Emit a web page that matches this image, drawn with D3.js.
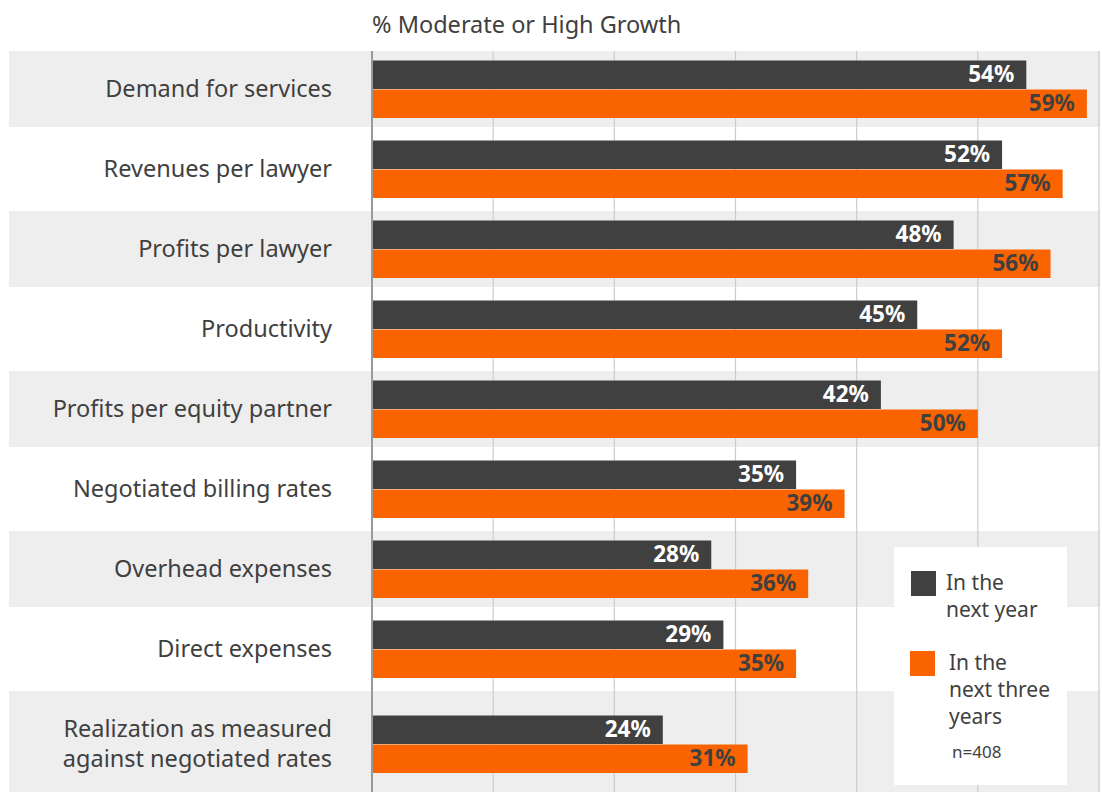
<!DOCTYPE html>
<html>
<head>
<meta charset="utf-8">
<script src="https://cdn.jsdelivr.net/npm/d3@7"></script>
<style>
  body { margin: 0; background: #fff; }
  text { font-family: "Noto Sans", "Open Sans", sans-serif; }
</style>
</head>
<body>
<svg id="chart" width="1102" height="792"></svg>
<script>
// Data
const categories = [
  ['Demand for services'],
  ['Revenues per lawyer'],
  ['Profits per lawyer'],
  ['Productivity'],
  ['Profits per equity partner'],
  ['Negotiated billing rates'],
  ['Overhead expenses'],
  ['Direct expenses'],
  ['Realization as measured', 'against negotiated rates']
];
const nextYear = [54, 52, 48, 45, 42, 35, 28, 29, 24];
const nextThreeYears = [59, 57, 56, 52, 50, 39, 36, 35, 31];
const seriesNames = [['In the', 'next year'], ['In the', 'next three', 'years']];
const gridTicks = [10, 20, 30, 40, 50, 60];

const colors = ['#404040', '#fa6400'];
const textColor = '#404040';

const svg = d3.select('#chart');
const x = d3.scaleLinear().domain([0, 60]).range([372, 1099]);

// row layout: taller rows for two-line labels
const top0 = 49;
let acc = top0;
const rows = categories.map((lines, i) => {
  const h = 80 + 30 * (lines.length - 1);
  const r = { i, lines, y0: acc, h };
  acc += h;
  return r;
});

// Alternating bands
svg.append('g').selectAll('rect')
  .data(rows.filter(r => r.i % 2 === 0))
  .enter().append('rect')
  .attr('x', 9)
  .attr('y', r => r.y0 + 2)
  .attr('width', 1091)
  .attr('height', r => r.h - 4)
  .attr('fill', '#eeeeee');

// Gridlines
svg.append('g').selectAll('line')
  .data(gridTicks)
  .enter().append('line')
  .attr('x1', d => x(d)).attr('x2', d => x(d))
  .attr('y1', 51).attr('y2', 792)
  .attr('stroke', '#cccccc').attr('stroke-width', 1.2);

// Title
svg.append('text')
  .attr('x', 372).attr('y', 33)
  .attr('font-size', 23.5)
  .attr('fill', textColor)
  .text('% Moderate or High Growth');

// Category labels
rows.forEach(r => {
  const cy = r.y0 + r.h / 2;
  const t = svg.append('text')
    .attr('text-anchor', 'end')
    .attr('font-size', 23.5)
    .attr('fill', textColor);
  r.lines.forEach((line, k) => {
    t.append('tspan')
      .attr('x', 332)
      .attr('y', cy + 8 + (k - (r.lines.length - 1) / 2) * 30)
      .text(line);
  });
});

// Bars
const barH = 28.5;
const series = [nextYear, nextThreeYears];
series.forEach((vals, s) => {
  const g = svg.append('g');
  g.selectAll('rect')
    .data(vals)
    .enter().append('rect')
    .attr('x', x(0))
    .attr('y', (d, i) => rows[i].y0 + rows[i].h / 2 - barH + s * (barH + 0.5))
    .attr('width', d => x(d) - x(0))
    .attr('height', barH)
    .attr('fill', colors[s]);
  g.selectAll('text')
    .data(vals)
    .enter().append('text')
    .attr('x', d => x(d) - 12)
    .attr('y', (d, i) => rows[i].y0 + rows[i].h / 2 - barH + s * (barH + 0.5) + barH / 2 + 7.5)
    .attr('text-anchor', 'end')
    .attr('font-size', 22.5)
    .attr('font-weight', 'bold')
    .attr('fill', s === 0 ? '#ffffff' : textColor)
    .text(d => d + '%');
});

// Zero axis line
svg.append('line')
  .attr('x1', x(0)).attr('x2', x(0))
  .attr('y1', 51).attr('y2', 792)
  .attr('stroke', '#999999').attr('stroke-width', 2);

// Legend
const lg = svg.append('g');
lg.append('rect')
  .attr('x', 894).attr('y', 547)
  .attr('width', 173).attr('height', 238)
  .attr('fill', '#ffffff');
const legendPos = [{ sx: 911, sy: 571, tx: 946, ty: 590 }, { sx: 910, sy: 651, tx: 949, ty: 670 }];
seriesNames.forEach((lines, s) => {
  const p = legendPos[s];
  lg.append('rect')
    .attr('x', p.sx).attr('y', p.sy)
    .attr('width', 25).attr('height', 25)
    .attr('fill', colors[s]);
  const t = lg.append('text')
    .attr('font-size', 21)
    .attr('fill', textColor);
  lines.forEach((line, k) => {
    t.append('tspan').attr('x', p.tx).attr('y', p.ty + k * 27).text(line);
  });
});
lg.append('text')
  .attr('x', 952).attr('y', 758)
  .attr('font-size', 17)
  .attr('fill', textColor)
  .text('n=408');
</script>
</body>
</html>
